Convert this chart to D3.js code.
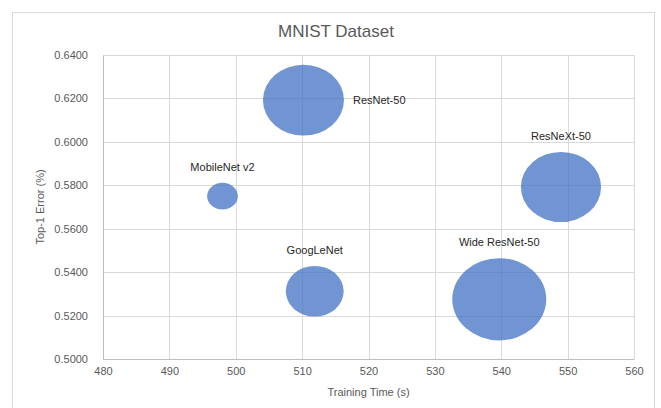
<!DOCTYPE html>
<html>
<head>
<meta charset="utf-8">
<script src="https://cdn.jsdelivr.net/npm/d3@7"></script>
<style>
  body { margin: 0; background: #fff; }
  svg text { font-family: "Liberation Sans", Arial, sans-serif; }
</style>
</head>
<body>
<svg id="chart" width="661" height="408"></svg>
<script>
// Data
var models = ["ResNet-50", "MobileNet v2", "GoogLeNet", "ResNeXt-50", "Wide ResNet-50"];
var trainTime = [510.2, 498.0, 511.9, 549.0, 539.7];
var top1Error = [0.6192, 0.5750, 0.5312, 0.5792, 0.5275];
var bubbleSize = [98, 14, 50, 96, 132];
var xTicks = [480, 490, 500, 510, 520, 530, 540, 550, 560];
var yTicks = [0.50, 0.52, 0.54, 0.56, 0.58, 0.60, 0.62, 0.64];

// label placement (style only)
var labelSide = { "ResNet-50": "right" };

var data = models.map(function(m, i) {
    return { name: m, x: trainTime[i], y: top1Error[i], size: bubbleSize[i] };
});

var svg = d3.select("#chart");

var margin = { top: 55, right: 27, bottom: 49, left: 103 },
    width = 661 - margin.left - margin.right,
    height = 408 - margin.top - margin.bottom;

// outer chart border
svg.append("rect")
    .attr("x", 12.5).attr("y", 12.5)
    .attr("width", 642).attr("height", 410)
    .attr("fill", "none")
    .attr("stroke", "#d9d9d9");

var g = svg.append("g")
    .attr("transform", "translate(" + margin.left + "," + margin.top + ")");

var xScale = d3.scaleLinear().domain([480, 560]).range([0, width]);
var yScale = d3.scaleLinear().domain([0.50, 0.64]).range([height, 0]);
var rScale = d3.scaleSqrt().domain([0, 132]).range([0, 47]);
var aspect = 0.875;

// gridlines
g.append("g")
    .selectAll("line")
    .data(xTicks)
    .enter().append("line")
    .attr("x1", d => Math.round(xScale(d)) + 0.5)
    .attr("x2", d => Math.round(xScale(d)) + 0.5)
    .attr("y1", 0).attr("y2", height)
    .attr("stroke", "#d9d9d9");

g.append("g")
    .selectAll("line")
    .data(yTicks)
    .enter().append("line")
    .attr("y1", d => Math.round(yScale(d)) + 0.5)
    .attr("y2", d => Math.round(yScale(d)) + 0.5)
    .attr("x1", 0).attr("x2", width)
    .attr("stroke", "#d9d9d9");

// axes
var xAxis = g.append("g")
    .attr("transform", "translate(0," + height + ")")
    .call(d3.axisBottom(xScale).tickValues(xTicks).tickSize(0).tickPadding(8));
var yAxis = g.append("g")
    .call(d3.axisLeft(yScale).tickValues(yTicks).tickSize(0).tickPadding(15).tickFormat(d3.format(".4f")));

[xAxis, yAxis].forEach(function(a) {
    a.select(".domain").attr("stroke", "#bfbfbf");
    a.selectAll("text")
        .style("font-size", "11px")
        .attr("fill", "#595959");
});

// bubbles
g.selectAll(".bubble")
    .data(data)
    .enter().append("ellipse")
    .attr("class", "bubble")
    .attr("cx", d => xScale(d.x))
    .attr("cy", d => yScale(d.y))
    .attr("rx", d => rScale(d.size))
    .attr("ry", d => rScale(d.size) * aspect)
    .attr("fill", "#4472c4")
    .attr("fill-opacity", 0.76);

// data labels
g.selectAll(".label")
    .data(data)
    .enter().append("text")
    .attr("class", "label")
    .attr("x", function(d) {
        if (labelSide[d.name] === "right") return xScale(d.x) + rScale(d.size) + 9;
        return xScale(d.x);
    })
    .attr("y", function(d) {
        if (labelSide[d.name] === "right") return yScale(d.y);
        return yScale(d.y) - rScale(d.size) * aspect - 16;
    })
    .attr("dy", "0.35em")
    .attr("text-anchor", d => labelSide[d.name] === "right" ? "start" : "middle")
    .style("font-size", "11px")
    .attr("fill", "#262626")
    .text(d => d.name);

// title
svg.append("text")
    .attr("x", 336).attr("y", 31)
    .attr("dy", "0.35em")
    .attr("text-anchor", "middle")
    .style("font-size", "17px")
    .attr("fill", "#595959")
    .text("MNIST Dataset");

// axis titles
svg.append("text")
    .attr("x", margin.left + width / 2).attr("y", 392)
    .attr("dy", "0.35em")
    .attr("text-anchor", "middle")
    .style("font-size", "11px")
    .attr("fill", "#595959")
    .text("Training Time (s)");

svg.append("text")
    .attr("transform", "translate(40," + (margin.top + height / 2) + ") rotate(-90)")
    .attr("dy", "0.35em")
    .attr("text-anchor", "middle")
    .style("font-size", "11px")
    .attr("fill", "#595959")
    .text("Top-1 Error (%)");
</script>
</body>
</html>
